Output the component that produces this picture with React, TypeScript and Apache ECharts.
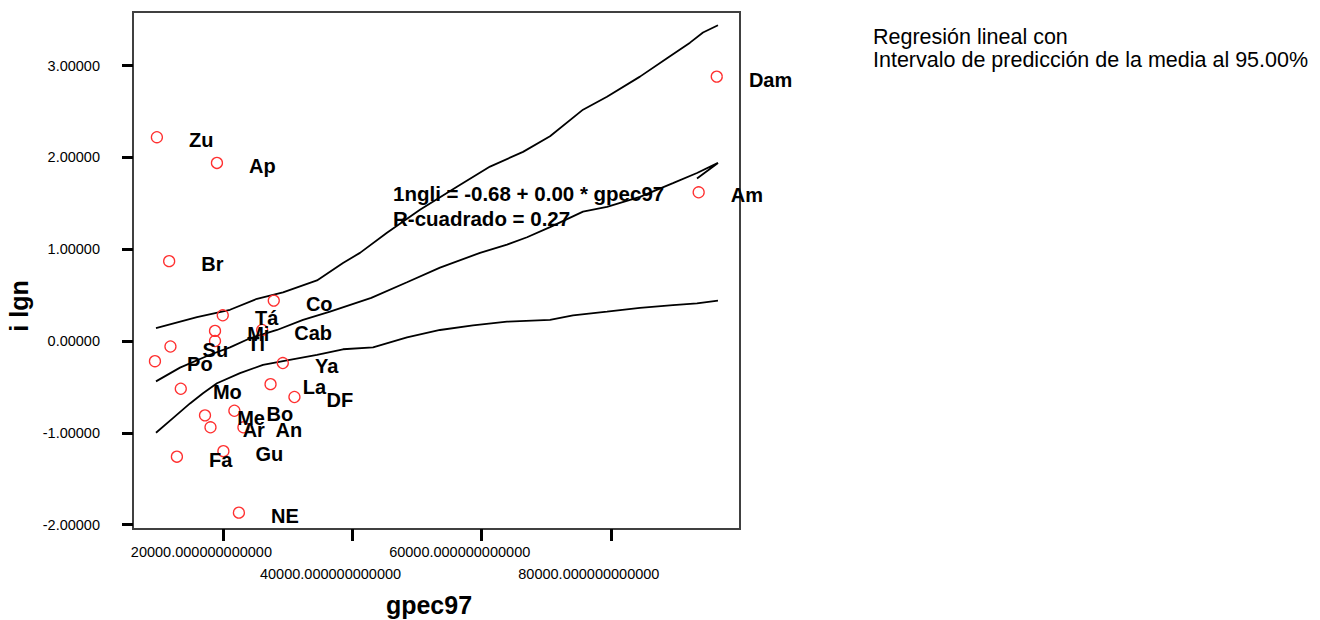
import React, { useEffect, useRef } from "react";
import * as echarts from "echarts";

// Scatter points (state abbreviations)
const pointNames = ["Zu", "Ap", "Br", "Co", "Tá", "Mi", "Tl", "Cab", "Su", "Po", "Ya", "Mo", "La", "DF", "Bo", "Me", "Ar", "An", "Gu", "Fa", "NE", "Dam", "Am"];
const gpec97 = [9700, 19000, 11600, 27800, 19900, 18700, 18700, 26000, 11800, 9400, 29200, 13400, 27300, 31000, 21700, 17150, 18000, 23100, 20000, 12800, 22400, 96400, 93600];
const lngli = [2.22, 1.94, 0.87, 0.44, 0.28, 0.11, 0.0, 0.12, -0.06, -0.22, -0.24, -0.52, -0.47, -0.61, -0.76, -0.81, -0.94, -0.94, -1.2, -1.26, -1.87, 2.88, 1.62];

// Fitted line (as drawn, including the stray end segment)
const fitX = [9560, 13280, 17920, 21020, 24120, 28300, 32330, 36510, 42900, 48430, 53540, 59740, 63920, 67020, 70580, 75690, 79400, 84510, 89620, 93340, 96590, 93340];
const fitY = [-0.44, -0.29, -0.15, -0.07, 0.03, 0.12, 0.23, 0.32, 0.47, 0.64, 0.8, 0.96, 1.05, 1.13, 1.24, 1.41, 1.46, 1.57, 1.72, 1.83, 1.94, 1.77];

// Upper prediction limit
const upX = [9560, 15910, 21020, 25200, 29230, 34490, 38520, 41150, 45330, 50440, 56170, 61290, 66400, 70580, 75690, 79400, 84510, 88700, 92260, 94270, 96590];
const upY = [0.14, 0.26, 0.34, 0.46, 0.53, 0.66, 0.85, 0.96, 1.18, 1.43, 1.68, 1.9, 2.06, 2.23, 2.52, 2.66, 2.88, 3.08, 3.25, 3.36, 3.44];

// Lower prediction limit
const loX = [9560, 12190, 14830, 16840, 19010, 22570, 26130, 29850, 34490, 38520, 43170, 48430, 53540, 58650, 63920, 70580, 74140, 79400, 84510, 89620, 93340, 96590];
const loY = [-1.0, -0.84, -0.68, -0.57, -0.46, -0.35, -0.26, -0.21, -0.15, -0.09, -0.07, 0.04, 0.12, 0.17, 0.21, 0.23, 0.28, 0.32, 0.36, 0.39, 0.41, 0.44];

// Axis ticks (labels are staggered on two rows)
const xTickValues = [20000, 40000, 60000, 80000];
const xTickLabels = ["20000.000000000000", "40000.000000000000", "60000.000000000000", "80000.000000000000"];
const yTickValues = [-2, -1, 0, 1, 2, 3];
const yTickLabels = ["-2.00000", "-1.00000", "0.00000", "1.00000", "2.00000", "3.00000"];

const equationLines = ["1ngli = -0.68 + 0.00 * gpec97", "R-cuadrado = 0.27"];
const noteLines = ["Regresión lineal con", "Intervalo de predicción de la media al 95.00%"];
const xName = "gpec97";
const yName = "i lgn";

const FONT = "'Liberation Sans', Arial, Helvetica, sans-serif";

export default function App() {
  const ref = useRef<HTMLDivElement>(null);

  useEffect(() => {
    if (!ref.current) return;
    const chart = echarts.init(ref.current, null, { renderer: "svg" });

    const txt = (text: string, x: number, y: number, size: number, weight: string, align: string, extra: any = {}) => ({
      type: "text",
      x,
      y,
      z: 0,
      ...extra,
      style: {
        text,
        fill: "#000",
        fontSize: size,
        fontWeight: weight,
        fontFamily: FONT,
        align,
        textAlign: align,
        verticalAlign: "middle",
        textVerticalAlign: "middle",
      },
    });

    const row1 = xTickValues.filter((_, i) => i % 2 === 0);
    const row2 = xTickValues.filter((_, i) => i % 2 === 1);
    const xLabelFmt = (v: number) => {
      const i = xTickValues.indexOf(v);
      return i < 0 ? "" : xTickLabels[i];
    };
    const xLabelBase = {
      showMinLabel: true,
      showMaxLabel: true,
      hideOverlap: false,
      formatter: xLabelFmt,
      fontSize: 14.5,
      color: "#000",
      fontFamily: FONT,
      padding: [0, 44, 0, 0],
    };

    chart.setOption({
      animation: false,
      backgroundColor: "#ffffff",
      grid: {
        left: 133,
        top: 12,
        width: 607,
        height: 517,
        show: true,
        borderColor: "#404040",
        borderWidth: 2,
        backgroundColor: "transparent",
        containLabel: false,
        outerBoundsMode: "none",
      },
      xAxis: [
        {
          type: "value",
          min: 6000,
          max: 100000,
          position: "bottom",
          axisLine: { show: false, onZero: false },
          splitLine: { show: false },
          axisTick: {
            show: true,
            customValues: xTickValues,
            length: 12,
            lineStyle: { color: "#000", width: 3 },
          },
          axisLabel: { ...xLabelBase, customValues: row1, margin: 15 },
        },
        {
          type: "value",
          min: 6000,
          max: 100000,
          position: "bottom",
          axisLine: { show: false, onZero: false },
          splitLine: { show: false },
          axisTick: { show: false },
          axisLabel: { ...xLabelBase, customValues: row2, margin: 37 },
        },
      ],
      yAxis: {
        type: "value",
        min: -2.048,
        max: 3.584,
        axisLine: { show: false, onZero: false },
        splitLine: { show: false },
        axisTick: {
          show: true,
          customValues: yTickValues,
          length: 11,
          lineStyle: { color: "#000", width: 3 },
        },
        axisLabel: {
          customValues: yTickValues,
          showMinLabel: true,
          showMaxLabel: true,
          formatter: (v: number) => {
            const i = yTickValues.findIndex((t) => Math.abs(t - v) < 1e-9);
            return i < 0 ? "" : yTickLabels[i];
          },
          margin: 33,
          fontSize: 14.5,
          color: "#000",
          fontFamily: FONT,
        },
      },
      graphic: [
        txt(equationLines[0], 393, 193, 20.5, "bold", "left"),
        txt(equationLines[1], 393, 218, 20.5, "bold", "left"),
        txt(noteLines[0], 873, 37, 21.5, "normal", "left"),
        txt(noteLines[1], 873, 60, 21.5, "normal", "left"),
        txt(xName, 429, 605, 25, "bold", "center"),
        txt(yName, 19, 306, 25, "bold", "center", { rotation: Math.PI / 2 }),
      ],
      series: [
        {
          type: "line",
          data: upX.map((x, i) => [x, upY[i]]),
          symbol: "none",
          lineStyle: { color: "#000", width: 1.8 },
          z: 2,
        },
        {
          type: "line",
          data: fitX.map((x, i) => [x, fitY[i]]),
          symbol: "none",
          lineStyle: { color: "#000", width: 1.8 },
          z: 2,
        },
        {
          type: "line",
          data: loX.map((x, i) => [x, loY[i]]),
          symbol: "none",
          lineStyle: { color: "#000", width: 1.8 },
          z: 2,
        },
        {
          type: "scatter",
          data: gpec97.map((x, i) => ({ value: [x, lngli[i]], name: pointNames[i] })),
          symbol: "circle",
          symbolSize: 11,
          itemStyle: { color: "rgba(255,255,255,0)", borderColor: "#ff3030", borderWidth: 1.3, opacity: 1 },
          label: {
            show: true,
            position: "right",
            distance: 26,
            offset: [0, 3],
            formatter: "{b}",
            fontSize: 20,
            fontWeight: "bold",
            color: "#000",
            opacity: 1,
            textBorderWidth: 0,
            fontFamily: FONT,
          },
          z: 3,
        },
      ],
    });

    return () => chart.dispose();
  }, []);

  return (
    <div
      ref={ref}
      style={{ position: "absolute", left: 0, top: 0, width: 1320, height: 620, background: "#fff" }}
    />
  );
}
